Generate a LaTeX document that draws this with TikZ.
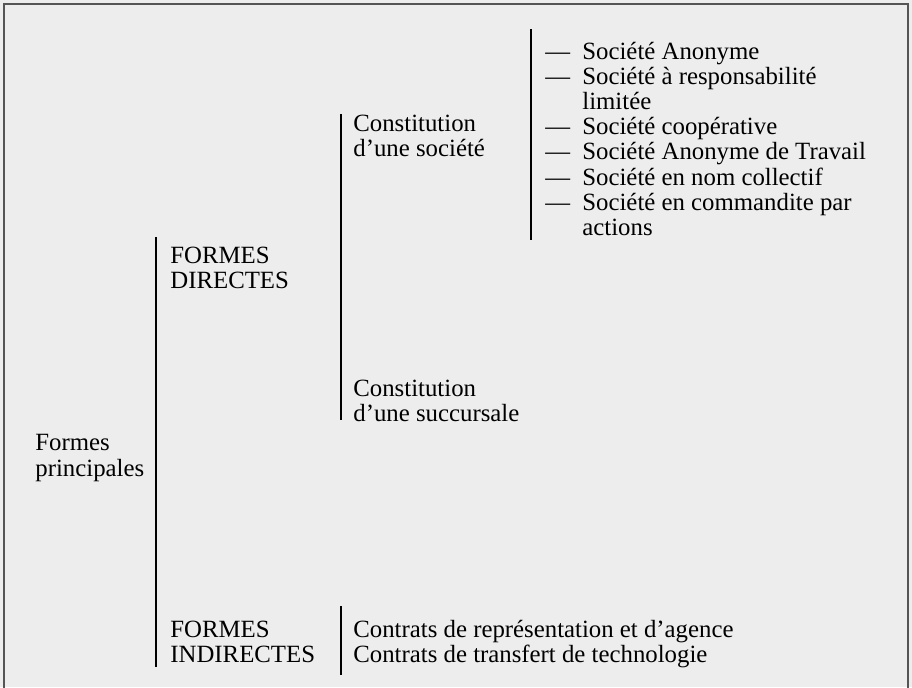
\documentclass[tikz,border=0pt]{standalone}
\usepackage{fontspec}
\setmainfont{Liberation Serif}
\definecolor{bggray}{RGB}{237,237,237}
\definecolor{framegray}{RGB}{85,85,85}

\begin{document}
\begin{tikzpicture}[x=0.5pt,y=-0.5pt,
        lbl/.style={anchor=base west,inner sep=0pt,font=\fontsize{12.4pt}{12.6pt}\selectfont},
        bar/.style={line width=0.75pt,black}]

        %\draw [help lines,step=20] (0,0) grid (912,687);

        \useasboundingbox [fill=bggray] (0,0) rectangle (912,687);
        \draw [line width=1.2pt,framegray] (4,700) -- (4,4) -- (908,4) -- (908,700);

        \path   (35,450) node (fp1) [lbl] {Formes}
                (35,476) node (fp2) [lbl] {principales}
                (170,263) node (fd1) [lbl] {FORMES}
                (170,288) node (fd2) [lbl] {DIRECTES}
                (170,637) node (fi1) [lbl] {FORMES}
                (170,662) node (fi2) [lbl] {INDIRECTES}
                (353,131) node (cs1) [lbl] {Constitution}
                (353,156) node (cs2) [lbl] {d’une société}
                (353,396) node (cu1) [lbl] {Constitution}
                (353,421) node (cu2) [lbl] {d’une succursale}
                (353,637) node (ct1) [lbl] {Contrats de représentation et d’agence}
                (353,662) node (ct2) [lbl] {Contrats de transfert de technologie};

        \path   (545,59) node (d1) [lbl] {—}
                (582,59) node (s1) [lbl] {Société Anonyme}
                (545,84) node (d2) [lbl] {—}
                (582,84) node (s2) [lbl] {Société à responsabilité}
                (582,109) node (s2b) [lbl] {limitée}
                (545,134) node (d3) [lbl] {—}
                (582,134) node (s3) [lbl] {Société coopérative}
                (545,159) node (d4) [lbl] {—}
                (582,159) node (s4) [lbl] {Société Anonyme de Travail}
                (545,185) node (d5) [lbl] {—}
                (582,185) node (s5) [lbl] {Société en nom collectif}
                (545,210) node (d6) [lbl] {—}
                (582,210) node (s6) [lbl] {Société en commandite par}
                (582,235) node (s6b) [lbl] {actions};

        \coordinate (b1t) at (156,237);
        \coordinate (b1b) at (156,667);
        \coordinate (b2t) at (341,114);
        \coordinate (b2b) at (341,420);
        \coordinate (b3t) at (531,29);
        \coordinate (b3b) at (531,240);
        \coordinate (b4t) at (341,606);
        \coordinate (b4b) at (341,675);

        \draw[bar] (b1t) -- (b1b);
        \draw[bar] (b2t) -- (b2b);
        \draw[bar] (b3t) -- (b3b);
        \draw[bar] (b4t) -- (b4b);

\end{tikzpicture}
\end{document}
